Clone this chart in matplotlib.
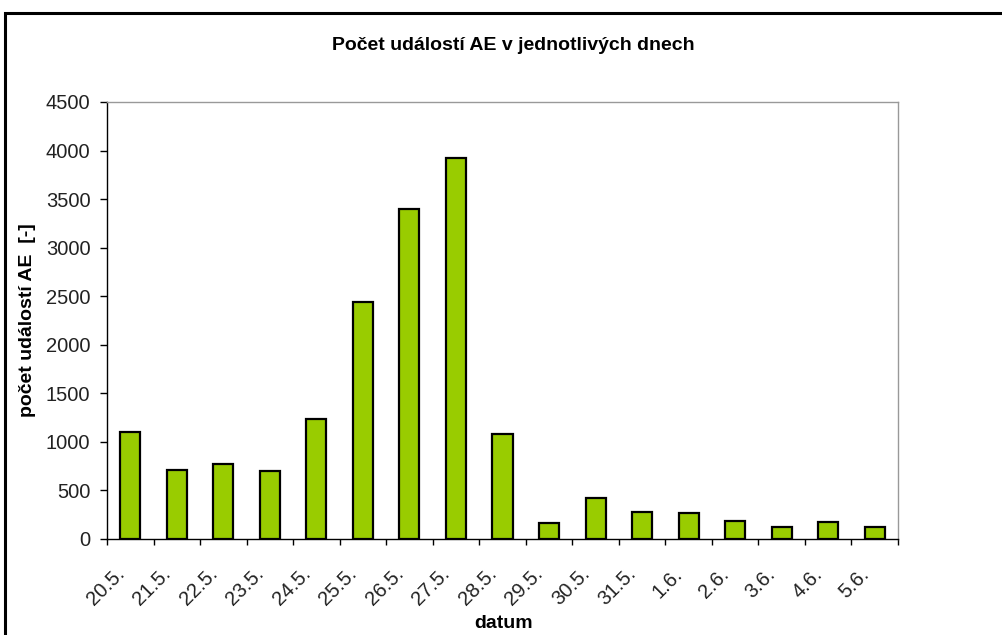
import numpy as np
import matplotlib.pyplot as plt
import matplotlib.transforms as mtransforms
from matplotlib.patches import Rectangle

plt.rcParams['font.family'] = ['Liberation Sans', 'DejaVu Sans']

dates = ['20.5.', '21.5.', '22.5.', '23.5.', '24.5.', '25.5.', '26.5.', '27.5.', '28.5.',
         '29.5.', '30.5.', '31.5.', '1.6.', '2.6.', '3.6.', '4.6.', '5.6.']
counts = [1100, 710, 775, 700, 1240, 2440, 3400, 3920, 1085,
          160, 420, 275, 265, 185, 127, 175, 124]

fig = plt.figure(figsize=(10.03, 6.35), dpi=100)
ax = fig.add_axes([0.1067, 0.1512, 0.7886, 0.6882])

x = np.arange(len(dates))
ax.bar(x, counts, width=0.43, color='#99cc00', edgecolor='black', linewidth=1.6, zorder=3)

ax.set_xlim(-0.5, len(dates) - 0.5)
ax.set_ylim(0, 4500)
ax.set_yticks(np.arange(0, 4501, 500))

# labels at bar centres, tick marks between categories
ax.set_xticks(x)
ax.set_xticklabels(dates, rotation=45, ha='right', va='center', rotation_mode='anchor')
ax.set_xticks(np.arange(-0.5, len(dates)), minor=True)
ax.tick_params(axis='x', which='major', length=0, pad=23, labelsize=14.5, labelcolor='#222222')
ax.tick_params(axis='x', which='minor', length=4.5, width=1, color='black', direction='out')
ax.tick_params(axis='y', length=5, width=1, color='black', labelsize=14.5, labelcolor='#222222', pad=7)

shift = mtransforms.ScaledTranslation(-0.09, 0, fig.dpi_scale_trans)
for lab in ax.get_xticklabels():
    lab.set_transform(lab.get_transform() + shift)

for s in ['top', 'right']:
    ax.spines[s].set_color('#999999')
    ax.spines[s].set_linewidth(1)
for s in ['left', 'bottom']:
    ax.spines[s].set_color('black')
    ax.spines[s].set_linewidth(1)

ax.set_ylabel('počet událostí AE  [-]', fontsize=14, fontweight='bold', va='center')
ax.yaxis.set_label_coords(-0.101, 0.5)
fig.text(0.502, 1 - 623 / 635, 'datum', ha='center', va='center', fontsize=14, fontweight='bold')
fig.text(0.512, 0.9276, 'Počet událostí AE v jednotlivých dnech', ha='center', va='center',
         fontsize=14, fontweight='bold')

# outer chart frame (only top and left edges are visible in the crop)
fig.patches.append(Rectangle((0.0045, -0.1), 1.2, 1.1 - 0.0205, transform=fig.transFigure,
                             fill=False, edgecolor='black', linewidth=2.2))

fig.savefig('out.png', dpi=100)
